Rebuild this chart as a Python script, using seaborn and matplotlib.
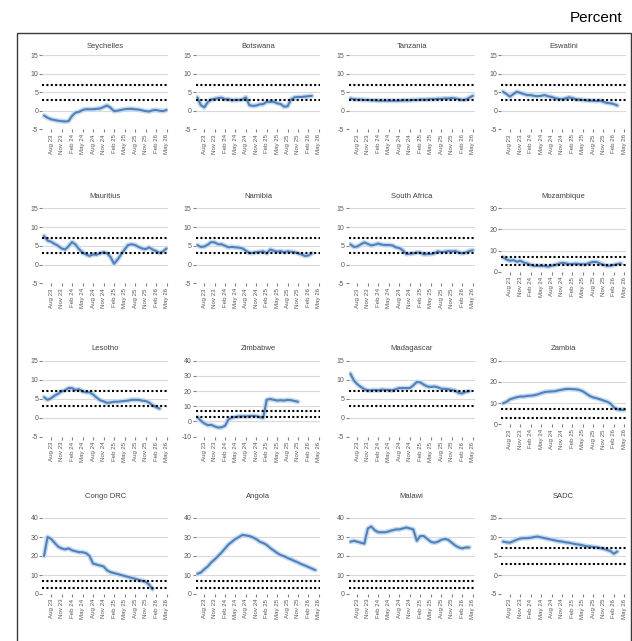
import numpy as np
import pandas as pd
import matplotlib
matplotlib.use("Agg")
import matplotlib.pyplot as plt
from matplotlib.patches import Rectangle
import seaborn as sns

# Monthly headline inflation (year-on-year, %), first observation = Jun 2023 (month 0)
tick_months = [2, 5, 8, 11, 14, 17, 20, 23, 26, 29, 32, 35]
tick_labels = ["Aug 23", "Nov 23", "Feb 24", "May 24", "Aug 24", "Nov 24",
               "Feb 25", "May 25", "Aug 25", "Nov 25", "Feb 26", "May 26"]

seychelles = [-1.3, -1.9, -2.3, -2.5, -2.7, -2.8, -2.9, -2.8, -1.4, -0.5, -0.3, 0.2,
              0.4, 0.4, 0.4, 0.5, 0.6, 1.0, 1.4, 0.8, -0.1, 0.0, 0.2, 0.4,
              0.5, 0.5, 0.4, 0.3, 0.1, -0.1, -0.2, 0.1, 0.2, 0.0, -0.1, 0.2]
botswana = [3.6, 1.5, 0.9, 2.3, 3.0, 3.2, 3.4, 3.5, 3.1, 3.1, 2.8, 2.9,
            2.9, 3.0, 3.6, 1.5, 1.3, 1.4, 1.7, 1.8, 2.4, 2.4, 2.4, 2.0,
            1.8, 1.1, 1.2, 3.0, 3.6, 3.7, 3.7, 3.8, 3.9, 4.0]
tanzania = [3.3, 3.1, 3.0, 3.0, 2.9, 2.9, 2.8, 2.8, 2.7, 2.7, 2.7, 2.7,
            2.7, 2.7, 2.7, 2.8, 2.8, 2.8, 2.9, 2.9, 3.0, 3.0, 3.0, 3.1,
            3.1, 3.2, 3.2, 3.3, 3.3, 3.4, 3.3, 3.1, 2.9, 3.0, 3.5, 4.0]
eswatini = [5.1, 4.5, 3.8, 4.5, 5.1, 4.8, 4.5, 4.2, 4.2, 4.0, 3.9, 4.0,
            4.2, 3.9, 3.7, 3.4, 3.2, 3.1, 3.3, 3.6, 3.4, 3.1, 3.0, 2.9,
            2.8, 2.7, 2.7, 2.6, 2.7, 2.4, 2.1, 2.0, 1.8, 1.4]
mauritius = [7.6, 6.4, 6.1, 5.5, 5.0, 4.3, 4.0, 4.9, 6.0, 5.3, 4.1, 3.2,
             2.7, 2.3, 2.7, 2.6, 3.0, 3.3, 3.0, 2.0, 0.2, 1.3, 2.7, 4.0,
             5.2, 5.4, 5.2, 4.7, 4.3, 4.1, 4.6, 4.0, 3.6, 3.1, 3.5, 4.3]
namibia = [5.2, 4.7, 4.8, 5.3, 6.0, 5.9, 5.4, 5.4, 5.0, 4.6, 4.7, 4.6,
           4.5, 4.3, 3.7, 3.1, 3.1, 3.3, 3.4, 3.5, 3.0, 4.0, 3.7, 3.4,
           3.6, 3.3, 3.5, 3.4, 3.3, 3.0, 2.7, 2.3, 2.4, 3.0]
south_africa = [5.4, 4.7, 4.8, 5.4, 5.9, 5.5, 5.1, 5.3, 5.6, 5.3, 5.2, 5.2,
                5.1, 4.6, 4.4, 3.8, 2.8, 2.9, 3.0, 3.2, 3.2, 2.7, 2.8, 2.8,
                3.0, 3.5, 3.3, 3.4, 3.6, 3.5, 3.6, 3.2, 3.0, 3.2, 3.6, 3.8]
mozambique = [6.8, 5.8, 5.2, 5.5, 4.7, 5.2, 4.3, 3.9, 3.2, 2.8, 2.8, 2.7,
              2.7, 2.4, 2.8, 3.2, 3.7, 4.2, 4.0, 3.6, 3.6, 3.8, 3.6, 3.5,
              3.6, 4.2, 4.6, 4.6, 3.9, 3.3, 2.8, 2.8, 3.2, 3.6, 3.9]
lesotho = [5.4, 4.7, 5.1, 5.8, 6.3, 6.9, 7.2, 7.8, 7.8, 7.3, 7.5, 6.9,
           6.7, 6.7, 6.1, 5.3, 4.6, 4.3, 3.9, 4.0, 4.2, 4.2, 4.3, 4.4,
           4.5, 4.7, 4.7, 4.7, 4.5, 4.4, 4.0, 3.3, 2.8, 2.4]
zimbabwe = [3.0, 0.5, -1.2, -2.4, -2.2, -3.2, -4.0, -3.8, -2.8, 1.5, 2.6, 3.0,
            3.3, 3.4, 3.3, 3.5, 3.7, 3.5, 2.9, 2.4, 14.3, 14.8, 14.3, 13.8,
            14.0, 13.8, 14.2, 14.0, 13.5, 13.0]
madagascar = [11.6, 9.8, 8.8, 8.1, 7.5, 7.2, 7.2, 7.3, 7.2, 7.4, 7.3, 7.3,
              7.2, 7.5, 7.8, 7.8, 7.8, 7.8, 8.5, 9.4, 9.3, 8.7, 8.2, 8.1,
              8.2, 8.0, 7.6, 7.6, 7.5, 7.3, 7.1, 6.5, 6.4, 6.8, 7.0]
zambia = [9.9, 10.6, 11.8, 12.3, 12.8, 13.1, 13.1, 13.4, 13.5, 13.7, 14.1, 14.7,
          15.2, 15.4, 15.5, 15.6, 16.0, 16.3, 16.6, 16.7, 16.6, 16.5, 16.2, 15.6,
          14.5, 13.4, 12.7, 12.3, 11.8, 11.2, 10.7, 9.8, 8.0, 7.1, 6.8, 6.8]
congo_drc = [20.0, 30.0, 29.0, 27.0, 25.0, 24.0, 23.5, 24.0, 23.0, 22.5, 22.0, 22.0,
             21.5, 20.0, 16.0, 15.5, 15.0, 14.5, 12.5, 11.5, 11.0, 10.5, 10.0, 9.5,
             9.0, 8.5, 8.0, 7.5, 7.0, 6.5, 5.0, 2.5]
angola = [10.6, 11.3, 13.0, 14.5, 16.6, 18.2, 20.0, 21.9, 24.0, 26.1, 27.5, 29.0,
          30.0, 31.1, 30.8, 30.5, 29.8, 28.9, 27.5, 26.8, 25.8, 24.2, 22.9, 21.6,
          20.5, 19.9, 19.0, 18.2, 17.4, 16.6, 15.7, 15.0, 14.2, 13.4, 12.6]
malawi = [27.5, 28.0, 27.5, 27.0, 26.5, 34.5, 35.5, 33.5, 32.5, 32.5, 32.5, 33.0,
          33.5, 34.0, 34.0, 34.5, 35.0, 34.5, 34.0, 28.0, 30.5, 30.5, 29.0, 27.5,
          27.0, 27.5, 28.5, 29.0, 28.5, 27.0, 25.5, 24.5, 24.0, 24.5, 24.5]
sadc = [8.8, 8.6, 8.5, 8.9, 9.3, 9.6, 9.7, 9.7, 9.8, 10.0, 10.1, 9.9,
        9.7, 9.5, 9.3, 9.1, 8.9, 8.8, 8.6, 8.5, 8.3, 8.1, 8.0, 7.8,
        7.6, 7.5, 7.4, 7.3, 7.1, 6.9, 6.6, 6.3, 5.6, 6.2]

# SADC inflation target range
target_low, target_high = 3, 7

panels = [
    ("Seychelles", seychelles, -5, 15, 5),
    ("Botswana", botswana, -5, 15, 5),
    ("Tanzania", tanzania, -5, 15, 5),
    ("Eswatini", eswatini, -5, 15, 5),
    ("Mauritius", mauritius, -5, 15, 5),
    ("Namibia", namibia, -5, 15, 5),
    ("South Africa", south_africa, -5, 15, 5),
    ("Mozambique", mozambique, 0, 30, 10),
    ("Lesotho", lesotho, -5, 15, 5),
    ("Zimbabwe", zimbabwe, -10, 40, 10),
    ("Madagascar", madagascar, -5, 15, 5),
    ("Zambia", zambia, 0, 30, 10),
    ("Congo DRC", congo_drc, 0, 40, 10),
    ("Angola", angola, 0, 40, 10),
    ("Malawi", malawi, 0, 40, 10),
    ("SADC", sadc, -5, 15, 5),
]

# ---- layout in pixels ----
W, H = 632, 641
col_x = [(42.3, 168.3), (195.6, 320.5), (348.6, 474.5), (501.3, 626.0)]
row_title_y = [46, 196, 348, 497]
# (top, bottom) of the plotting area of each panel
panel_y = [
    (55.0, 129.3), (55.0, 129.3), (55.0, 129.3), (55.0, 129.3),
    (208.3, 283.3), (208.3, 283.3), (208.3, 283.3), (208.3, 271.7),
    (360.7, 436.7), (360.7, 436.7), (360.7, 436.7), (360.7, 424.3),
    (518.0, 594.0), (518.0, 594.0), (518.0, 594.0), (518.0, 594.0),
]

sns.set_theme(style="white")
plt.rcParams["font.family"] = ["Liberation Sans", "DejaVu Sans"]

fig = plt.figure(figsize=(W / 100, H / 100), dpi=100)

line_color = "#4f81bd"
halo_color = "#c6dbef"
grid_color = "#d9d9d9"
label_color = "#595959"

for i, (name, values, ymin, ymax, ystep) in enumerate(panels):
    row, col = divmod(i, 4)
    x0, x1 = col_x[col]
    top, bottom = panel_y[i]
    ax = fig.add_axes([x0 / W, 1 - bottom / H, (x1 - x0) / W, (bottom - top) / H])

    df = pd.DataFrame({"month": np.arange(len(values)), "value": values})
    sns.lineplot(data=df, x="month", y="value", ax=ax, color=halo_color,
                 lw=3.6, zorder=2)
    sns.lineplot(data=df, x="month", y="value", ax=ax, color=line_color,
                 lw=1.5, zorder=2.5)

    for level in (target_high, target_low):
        ax.axhline(level, color="black", lw=1.5, ls=(0, (1, 1.1)),
                   dash_capstyle="butt", zorder=3)

    ax.set_xlim(-0.5, 35.5)
    ax.set_ylim(ymin, ymax)
    ax.set_yticks(np.arange(ymin, ymax + 0.1, ystep))
    ax.set_yticklabels([f"{v:g}" for v in np.arange(ymin, ymax + 0.1, ystep)])
    ax.set_xticks(tick_months)
    ax.set_xticklabels(tick_labels, rotation=90)
    ax.set_xlabel("")
    ax.set_ylabel("")
    ax.yaxis.grid(True, color=grid_color, lw=0.8)
    ax.xaxis.grid(False)
    ax.set_axisbelow(True)
    for s in ax.spines.values():
        s.set_visible(False)
    ax.tick_params(axis="y", length=2, width=0.8, color="#808080", pad=1,
                   labelsize=5, labelcolor=label_color, left=True)
    ax.tick_params(axis="x", length=2, width=0.8, color="#808080", pad=1.5,
                   labelsize=4.4, labelcolor=label_color, bottom=True)

    fig.text((x0 + x1) / 2 / W, 1 - row_title_y[row] / H, name,
             ha="center", va="center", fontsize=5.5, color="#404040")

# frame around the panel grid and the unit label
fig.add_artist(Rectangle((17 / W, -0.01), (630.5 - 17) / W, 1.01 - 33 / H,
                         transform=fig.transFigure, fill=False,
                         edgecolor="#3a3a3a", lw=1.0))
fig.text(622 / W, 1 - 18 / H, "Percent", ha="right", va="center",
         fontsize=11, color="black")

fig.savefig("out.png", dpi=100)
